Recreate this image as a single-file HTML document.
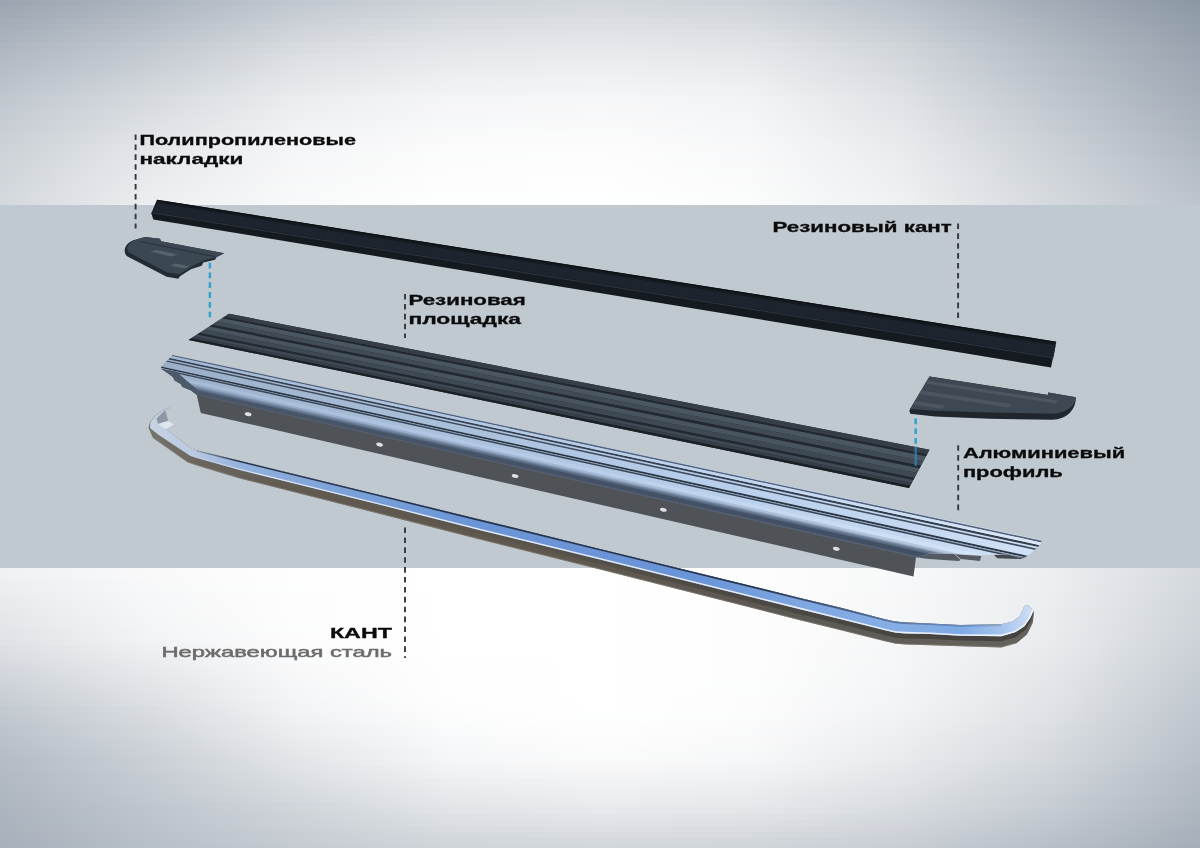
<!DOCTYPE html>
<html><head><meta charset="utf-8"><title>Exploded view</title>
<style>
html,body{margin:0;padding:0;background:#fff;}
body{width:1200px;height:848px;overflow:hidden;font-family:"Liberation Sans",sans-serif;}
svg{display:block;will-change:transform;}
text{font-family:"Liberation Sans",sans-serif;}
.lb{font-weight:bold;font-size:15.3px;fill:#0b0b0c;stroke:#0b0b0c;stroke-width:0.3px;}
.dl{stroke:#33383f;stroke-width:1.9;stroke-dasharray:5.6 4.3;fill:none;}
.bl{stroke:#35a1cd;stroke-width:2.5;stroke-dasharray:5.8 4;fill:none;}
</style></head><body>
<svg width="1200" height="848" viewBox="0 0 1200 848">

<defs><linearGradient id="t0" x1="0" y1="0" x2="1" y2="0"><stop offset="0" stop-color="#9ba5b1"/><stop offset="0.125" stop-color="#acb5bf"/><stop offset="0.25" stop-color="#c2c8d0"/><stop offset="0.375" stop-color="#ced3d9"/><stop offset="0.5" stop-color="#d3d8dd"/><stop offset="0.625" stop-color="#ced3d9"/><stop offset="0.75" stop-color="#bcc3cb"/><stop offset="0.875" stop-color="#a3acb7"/><stop offset="1" stop-color="#8d98a6"/></linearGradient>
<linearGradient id="t1" x1="0" y1="0" x2="1" y2="0"><stop offset="0" stop-color="#9ea8b3"/><stop offset="0.125" stop-color="#afb7c1"/><stop offset="0.25" stop-color="#c5cbd2"/><stop offset="0.375" stop-color="#d1d6db"/><stop offset="0.5" stop-color="#d6dadf"/><stop offset="0.625" stop-color="#d1d6db"/><stop offset="0.75" stop-color="#bfc5cd"/><stop offset="0.875" stop-color="#a5aeb9"/><stop offset="1" stop-color="#8f9aa7"/></linearGradient>
<linearGradient id="t2" x1="0" y1="0" x2="1" y2="0"><stop offset="0" stop-color="#a0aab5"/><stop offset="0.125" stop-color="#b2bac3"/><stop offset="0.25" stop-color="#c8ced4"/><stop offset="0.375" stop-color="#d4d8dd"/><stop offset="0.5" stop-color="#d8dce1"/><stop offset="0.625" stop-color="#d4d8dd"/><stop offset="0.75" stop-color="#c2c8cf"/><stop offset="0.875" stop-color="#a7b0bb"/><stop offset="1" stop-color="#909ca9"/></linearGradient>
<linearGradient id="t3" x1="0" y1="0" x2="1" y2="0"><stop offset="0" stop-color="#a3acb7"/><stop offset="0.125" stop-color="#b5bcc5"/><stop offset="0.25" stop-color="#cbd0d7"/><stop offset="0.375" stop-color="#d7dbe0"/><stop offset="0.5" stop-color="#dbdee3"/><stop offset="0.625" stop-color="#d6dadf"/><stop offset="0.75" stop-color="#c4cad1"/><stop offset="0.875" stop-color="#aab2bc"/><stop offset="1" stop-color="#929daa"/></linearGradient>
<linearGradient id="t4" x1="0" y1="0" x2="1" y2="0"><stop offset="0" stop-color="#a5aeb9"/><stop offset="0.125" stop-color="#b8bfc8"/><stop offset="0.25" stop-color="#ced3d9"/><stop offset="0.375" stop-color="#d9dde2"/><stop offset="0.5" stop-color="#dde1e5"/><stop offset="0.625" stop-color="#d9dde1"/><stop offset="0.75" stop-color="#c7ccd3"/><stop offset="0.875" stop-color="#acb4be"/><stop offset="1" stop-color="#949fac"/></linearGradient>
<linearGradient id="t5" x1="0" y1="0" x2="1" y2="0"><stop offset="0" stop-color="#a8b1bb"/><stop offset="0.125" stop-color="#bbc2ca"/><stop offset="0.25" stop-color="#d1d5db"/><stop offset="0.375" stop-color="#dce0e4"/><stop offset="0.5" stop-color="#e0e3e7"/><stop offset="0.625" stop-color="#dcdfe3"/><stop offset="0.75" stop-color="#cacfd5"/><stop offset="0.875" stop-color="#aeb6c0"/><stop offset="1" stop-color="#96a0ad"/></linearGradient>
<linearGradient id="t6" x1="0" y1="0" x2="1" y2="0"><stop offset="0" stop-color="#aab3bd"/><stop offset="0.125" stop-color="#bec4cc"/><stop offset="0.25" stop-color="#d4d8dd"/><stop offset="0.375" stop-color="#dfe2e6"/><stop offset="0.5" stop-color="#e2e5e9"/><stop offset="0.625" stop-color="#dee1e5"/><stop offset="0.75" stop-color="#ccd1d7"/><stop offset="0.875" stop-color="#b0b8c1"/><stop offset="1" stop-color="#98a2ae"/></linearGradient>
<linearGradient id="t7" x1="0" y1="0" x2="1" y2="0"><stop offset="0" stop-color="#adb5bf"/><stop offset="0.125" stop-color="#c1c7ce"/><stop offset="0.25" stop-color="#d7dbdf"/><stop offset="0.375" stop-color="#e2e5e8"/><stop offset="0.5" stop-color="#e5e8eb"/><stop offset="0.625" stop-color="#e1e4e7"/><stop offset="0.75" stop-color="#cfd4d9"/><stop offset="0.875" stop-color="#b2bac3"/><stop offset="1" stop-color="#9aa4b0"/></linearGradient>
<linearGradient id="t8" x1="0" y1="0" x2="1" y2="0"><stop offset="0" stop-color="#afb7c1"/><stop offset="0.125" stop-color="#c3c9d0"/><stop offset="0.25" stop-color="#d9dde2"/><stop offset="0.375" stop-color="#e4e7ea"/><stop offset="0.5" stop-color="#e7eaed"/><stop offset="0.625" stop-color="#e3e6e9"/><stop offset="0.75" stop-color="#d1d6db"/><stop offset="0.875" stop-color="#b4bcc5"/><stop offset="1" stop-color="#9ba5b1"/></linearGradient>
<linearGradient id="t9" x1="0" y1="0" x2="1" y2="0"><stop offset="0" stop-color="#b2b9c3"/><stop offset="0.125" stop-color="#c6cbd2"/><stop offset="0.25" stop-color="#dcdfe3"/><stop offset="0.375" stop-color="#e6e9ec"/><stop offset="0.5" stop-color="#e9ebee"/><stop offset="0.625" stop-color="#e5e8eb"/><stop offset="0.75" stop-color="#d3d7dd"/><stop offset="0.875" stop-color="#b6bdc6"/><stop offset="1" stop-color="#9ca6b2"/></linearGradient>
<linearGradient id="t10" x1="0" y1="0" x2="1" y2="0"><stop offset="0" stop-color="#b4bbc4"/><stop offset="0.125" stop-color="#c8cdd4"/><stop offset="0.25" stop-color="#dee1e5"/><stop offset="0.375" stop-color="#e8eaed"/><stop offset="0.5" stop-color="#ebedef"/><stop offset="0.625" stop-color="#e7e9ec"/><stop offset="0.75" stop-color="#d5d9de"/><stop offset="0.875" stop-color="#b7bfc7"/><stop offset="1" stop-color="#9ea7b3"/></linearGradient>
<linearGradient id="t11" x1="0" y1="0" x2="1" y2="0"><stop offset="0" stop-color="#b6bdc6"/><stop offset="0.125" stop-color="#cacfd6"/><stop offset="0.25" stop-color="#e0e3e7"/><stop offset="0.375" stop-color="#eaecef"/><stop offset="0.5" stop-color="#edeff1"/><stop offset="0.625" stop-color="#e9ebee"/><stop offset="0.75" stop-color="#d6dadf"/><stop offset="0.875" stop-color="#b9c0c8"/><stop offset="1" stop-color="#9fa8b4"/></linearGradient>
<linearGradient id="t12" x1="0" y1="0" x2="1" y2="0"><stop offset="0" stop-color="#b8bfc8"/><stop offset="0.125" stop-color="#ccd2d8"/><stop offset="0.25" stop-color="#e2e5e8"/><stop offset="0.375" stop-color="#eceef0"/><stop offset="0.5" stop-color="#eef0f2"/><stop offset="0.625" stop-color="#eaedef"/><stop offset="0.75" stop-color="#d8dce1"/><stop offset="0.875" stop-color="#bac1ca"/><stop offset="1" stop-color="#a0aab5"/></linearGradient>
<linearGradient id="t13" x1="0" y1="0" x2="1" y2="0"><stop offset="0" stop-color="#bac1c9"/><stop offset="0.125" stop-color="#cfd4d9"/><stop offset="0.25" stop-color="#e4e7ea"/><stop offset="0.375" stop-color="#eef0f2"/><stop offset="0.5" stop-color="#f0f2f4"/><stop offset="0.625" stop-color="#eceef0"/><stop offset="0.75" stop-color="#dadde2"/><stop offset="0.875" stop-color="#bcc3cb"/><stop offset="1" stop-color="#a1abb6"/></linearGradient>
<linearGradient id="t14" x1="0" y1="0" x2="1" y2="0"><stop offset="0" stop-color="#bcc3cb"/><stop offset="0.125" stop-color="#d1d6db"/><stop offset="0.25" stop-color="#e6e9ec"/><stop offset="0.375" stop-color="#f0f1f3"/><stop offset="0.5" stop-color="#f2f3f5"/><stop offset="0.625" stop-color="#eef0f2"/><stop offset="0.75" stop-color="#dbdfe3"/><stop offset="0.875" stop-color="#bec4cc"/><stop offset="1" stop-color="#a2acb7"/></linearGradient>
<linearGradient id="t15" x1="0" y1="0" x2="1" y2="0"><stop offset="0" stop-color="#bec5cd"/><stop offset="0.125" stop-color="#d3d8dd"/><stop offset="0.25" stop-color="#e8ebed"/><stop offset="0.375" stop-color="#f2f3f5"/><stop offset="0.5" stop-color="#f4f5f6"/><stop offset="0.625" stop-color="#f0f1f3"/><stop offset="0.75" stop-color="#dde0e5"/><stop offset="0.875" stop-color="#bfc6cd"/><stop offset="1" stop-color="#a4adb8"/></linearGradient>
<linearGradient id="t16" x1="0" y1="0" x2="1" y2="0"><stop offset="0" stop-color="#c1c7ce"/><stop offset="0.125" stop-color="#d6dadf"/><stop offset="0.25" stop-color="#ebedef"/><stop offset="0.375" stop-color="#f4f5f6"/><stop offset="0.5" stop-color="#f6f7f8"/><stop offset="0.625" stop-color="#f2f3f5"/><stop offset="0.75" stop-color="#dfe2e6"/><stop offset="0.875" stop-color="#c1c7ce"/><stop offset="1" stop-color="#a5aeb9"/></linearGradient>
<linearGradient id="t17" x1="0" y1="0" x2="1" y2="0"><stop offset="0" stop-color="#c2c8d0"/><stop offset="0.125" stop-color="#d7dbe0"/><stop offset="0.25" stop-color="#eceef0"/><stop offset="0.375" stop-color="#f5f6f7"/><stop offset="0.5" stop-color="#f7f7f8"/><stop offset="0.625" stop-color="#f3f4f5"/><stop offset="0.75" stop-color="#e0e3e7"/><stop offset="0.875" stop-color="#c2c8d0"/><stop offset="1" stop-color="#a6afba"/></linearGradient>
<linearGradient id="t18" x1="0" y1="0" x2="1" y2="0"><stop offset="0" stop-color="#c4cad1"/><stop offset="0.125" stop-color="#d9dde1"/><stop offset="0.25" stop-color="#edeff1"/><stop offset="0.375" stop-color="#f6f6f8"/><stop offset="0.5" stop-color="#f7f8f9"/><stop offset="0.625" stop-color="#f3f4f6"/><stop offset="0.75" stop-color="#e1e4e8"/><stop offset="0.875" stop-color="#c4cad1"/><stop offset="1" stop-color="#a8b0bb"/></linearGradient>
<linearGradient id="t19" x1="0" y1="0" x2="1" y2="0"><stop offset="0" stop-color="#c5cbd2"/><stop offset="0.125" stop-color="#dbdee3"/><stop offset="0.25" stop-color="#eef0f2"/><stop offset="0.375" stop-color="#f6f7f8"/><stop offset="0.5" stop-color="#f8f9fa"/><stop offset="0.625" stop-color="#f4f5f6"/><stop offset="0.75" stop-color="#e2e5e9"/><stop offset="0.875" stop-color="#c5cbd2"/><stop offset="1" stop-color="#a9b2bc"/></linearGradient>
<linearGradient id="t20" x1="0" y1="0" x2="1" y2="0"><stop offset="0" stop-color="#c7ccd3"/><stop offset="0.125" stop-color="#dce0e4"/><stop offset="0.25" stop-color="#f0f1f3"/><stop offset="0.375" stop-color="#f7f8f9"/><stop offset="0.5" stop-color="#f9f9fa"/><stop offset="0.625" stop-color="#f5f6f7"/><stop offset="0.75" stop-color="#e4e6ea"/><stop offset="0.875" stop-color="#c7ccd3"/><stop offset="1" stop-color="#abb3bd"/></linearGradient>
<linearGradient id="t21" x1="0" y1="0" x2="1" y2="0"><stop offset="0" stop-color="#c8cdd4"/><stop offset="0.125" stop-color="#dee1e5"/><stop offset="0.25" stop-color="#f1f2f4"/><stop offset="0.375" stop-color="#f8f9fa"/><stop offset="0.5" stop-color="#f9fafb"/><stop offset="0.625" stop-color="#f5f6f8"/><stop offset="0.75" stop-color="#e5e7eb"/><stop offset="0.875" stop-color="#c8cdd4"/><stop offset="1" stop-color="#acb4be"/></linearGradient>
<linearGradient id="t22" x1="0" y1="0" x2="1" y2="0"><stop offset="0" stop-color="#c9cfd5"/><stop offset="0.125" stop-color="#e0e3e7"/><stop offset="0.25" stop-color="#f2f3f5"/><stop offset="0.375" stop-color="#f9fafa"/><stop offset="0.5" stop-color="#fafbfb"/><stop offset="0.625" stop-color="#f6f7f8"/><stop offset="0.75" stop-color="#e6e8ec"/><stop offset="0.875" stop-color="#c9cfd5"/><stop offset="1" stop-color="#adb6bf"/></linearGradient>
<linearGradient id="t23" x1="0" y1="0" x2="1" y2="0"><stop offset="0" stop-color="#cbd0d6"/><stop offset="0.125" stop-color="#e1e4e8"/><stop offset="0.25" stop-color="#f3f4f6"/><stop offset="0.375" stop-color="#fafafb"/><stop offset="0.5" stop-color="#fbfbfc"/><stop offset="0.625" stop-color="#f7f8f9"/><stop offset="0.75" stop-color="#e7eaec"/><stop offset="0.875" stop-color="#cbd0d6"/><stop offset="1" stop-color="#afb7c0"/></linearGradient>
<linearGradient id="t24" x1="0" y1="0" x2="1" y2="0"><stop offset="0" stop-color="#ccd1d7"/><stop offset="0.125" stop-color="#e3e6e9"/><stop offset="0.25" stop-color="#f4f5f7"/><stop offset="0.375" stop-color="#fbfbfc"/><stop offset="0.5" stop-color="#fcfcfc"/><stop offset="0.625" stop-color="#f8f8f9"/><stop offset="0.75" stop-color="#e8ebed"/><stop offset="0.875" stop-color="#ccd1d7"/><stop offset="1" stop-color="#b0b8c2"/></linearGradient>
<linearGradient id="t25" x1="0" y1="0" x2="1" y2="0"><stop offset="0" stop-color="#cdd2d8"/><stop offset="0.125" stop-color="#e4e7ea"/><stop offset="0.25" stop-color="#f5f6f7"/><stop offset="0.375" stop-color="#fbfcfc"/><stop offset="0.5" stop-color="#fcfcfd"/><stop offset="0.625" stop-color="#f8f9fa"/><stop offset="0.75" stop-color="#e9ebee"/><stop offset="0.875" stop-color="#cdd2d8"/><stop offset="1" stop-color="#b2b9c3"/></linearGradient>
<linearGradient id="t26" x1="0" y1="0" x2="1" y2="0"><stop offset="0" stop-color="#ced3d9"/><stop offset="0.125" stop-color="#e5e8eb"/><stop offset="0.25" stop-color="#f6f7f8"/><stop offset="0.375" stop-color="#fbfcfc"/><stop offset="0.5" stop-color="#fcfdfd"/><stop offset="0.625" stop-color="#f8f9fa"/><stop offset="0.75" stop-color="#eaecef"/><stop offset="0.875" stop-color="#ced3d9"/><stop offset="1" stop-color="#b3bbc4"/></linearGradient>
<linearGradient id="t27" x1="0" y1="0" x2="1" y2="0"><stop offset="0" stop-color="#cfd4d9"/><stop offset="0.125" stop-color="#e6e9ec"/><stop offset="0.25" stop-color="#f6f7f8"/><stop offset="0.375" stop-color="#fcfcfd"/><stop offset="0.5" stop-color="#fdfdfd"/><stop offset="0.625" stop-color="#f9f9fa"/><stop offset="0.75" stop-color="#ebedef"/><stop offset="0.875" stop-color="#cfd4da"/><stop offset="1" stop-color="#b4bcc5"/></linearGradient>
<linearGradient id="t28" x1="0" y1="0" x2="1" y2="0"><stop offset="0" stop-color="#d0d4da"/><stop offset="0.125" stop-color="#e7e9ec"/><stop offset="0.25" stop-color="#f7f7f8"/><stop offset="0.375" stop-color="#fcfcfd"/><stop offset="0.5" stop-color="#fdfdfe"/><stop offset="0.625" stop-color="#f9fafa"/><stop offset="0.75" stop-color="#ebedf0"/><stop offset="0.875" stop-color="#d0d5da"/><stop offset="1" stop-color="#b6bdc6"/></linearGradient>
<linearGradient id="t29" x1="0" y1="0" x2="1" y2="0"><stop offset="0" stop-color="#d0d5db"/><stop offset="0.125" stop-color="#e8eaed"/><stop offset="0.25" stop-color="#f7f8f9"/><stop offset="0.375" stop-color="#fcfdfd"/><stop offset="0.5" stop-color="#fdfefe"/><stop offset="0.625" stop-color="#f9fafb"/><stop offset="0.75" stop-color="#eceef0"/><stop offset="0.875" stop-color="#d1d6db"/><stop offset="1" stop-color="#b7bec7"/></linearGradient>
<linearGradient id="t30" x1="0" y1="0" x2="1" y2="0"><stop offset="0" stop-color="#d1d6db"/><stop offset="0.125" stop-color="#e9ebee"/><stop offset="0.25" stop-color="#f7f8f9"/><stop offset="0.375" stop-color="#fdfdfd"/><stop offset="0.5" stop-color="#fefefe"/><stop offset="0.625" stop-color="#fafafb"/><stop offset="0.75" stop-color="#edeef1"/><stop offset="0.875" stop-color="#d2d6dc"/><stop offset="1" stop-color="#b8bfc8"/></linearGradient>
<linearGradient id="t31" x1="0" y1="0" x2="1" y2="0"><stop offset="0" stop-color="#d2d6dc"/><stop offset="0.125" stop-color="#eaecee"/><stop offset="0.25" stop-color="#f8f9f9"/><stop offset="0.375" stop-color="#fdfdfe"/><stop offset="0.5" stop-color="#fefefe"/><stop offset="0.625" stop-color="#fafbfb"/><stop offset="0.75" stop-color="#edeff1"/><stop offset="0.875" stop-color="#d3d7dc"/><stop offset="1" stop-color="#bac0c9"/></linearGradient>
<linearGradient id="t32" x1="0" y1="0" x2="1" y2="0"><stop offset="0" stop-color="#d3d7dc"/><stop offset="0.125" stop-color="#ebedef"/><stop offset="0.25" stop-color="#f8f9fa"/><stop offset="0.375" stop-color="#fdfefe"/><stop offset="0.5" stop-color="#feffff"/><stop offset="0.625" stop-color="#fafbfb"/><stop offset="0.75" stop-color="#eef0f2"/><stop offset="0.875" stop-color="#d4d8dd"/><stop offset="1" stop-color="#bbc2ca"/></linearGradient>
<linearGradient id="t33" x1="0" y1="0" x2="1" y2="0"><stop offset="0" stop-color="#d3d8dd"/><stop offset="0.125" stop-color="#ebedf0"/><stop offset="0.25" stop-color="#f9f9fa"/><stop offset="0.375" stop-color="#fefefe"/><stop offset="0.5" stop-color="#ffffff"/><stop offset="0.625" stop-color="#fbfbfc"/><stop offset="0.75" stop-color="#eff0f2"/><stop offset="0.875" stop-color="#d4d9de"/><stop offset="1" stop-color="#bcc3cb"/></linearGradient>
<linearGradient id="t34" x1="0" y1="0" x2="1" y2="0"><stop offset="0" stop-color="#d4d8dd"/><stop offset="0.125" stop-color="#eceef0"/><stop offset="0.25" stop-color="#f9fafa"/><stop offset="0.375" stop-color="#fefefe"/><stop offset="0.5" stop-color="#ffffff"/><stop offset="0.625" stop-color="#fbfbfc"/><stop offset="0.75" stop-color="#eff1f2"/><stop offset="0.875" stop-color="#d5d9de"/><stop offset="1" stop-color="#bdc4cb"/></linearGradient>
<linearGradient id="b0" x1="0" y1="0" x2="1" y2="0"><stop offset="0" stop-color="#eff1f3"/><stop offset="0.125" stop-color="#f9f9fa"/><stop offset="0.25" stop-color="#fefefe"/><stop offset="0.375" stop-color="#ffffff"/><stop offset="0.5" stop-color="#ffffff"/><stop offset="0.625" stop-color="#fdfdfd"/><stop offset="0.75" stop-color="#f7f8f9"/><stop offset="0.875" stop-color="#edeff1"/><stop offset="1" stop-color="#d5d9de"/></linearGradient>
<linearGradient id="b1" x1="0" y1="0" x2="1" y2="0"><stop offset="0" stop-color="#eef0f2"/><stop offset="0.125" stop-color="#f8f9fa"/><stop offset="0.25" stop-color="#fefefe"/><stop offset="0.375" stop-color="#ffffff"/><stop offset="0.5" stop-color="#ffffff"/><stop offset="0.625" stop-color="#fdfdfd"/><stop offset="0.75" stop-color="#f7f8f9"/><stop offset="0.875" stop-color="#eceef1"/><stop offset="1" stop-color="#d4d8dd"/></linearGradient>
<linearGradient id="b2" x1="0" y1="0" x2="1" y2="0"><stop offset="0" stop-color="#eceef1"/><stop offset="0.125" stop-color="#f8f8f9"/><stop offset="0.25" stop-color="#fefefe"/><stop offset="0.375" stop-color="#ffffff"/><stop offset="0.5" stop-color="#ffffff"/><stop offset="0.625" stop-color="#fdfdfd"/><stop offset="0.75" stop-color="#f7f8f9"/><stop offset="0.875" stop-color="#eceef0"/><stop offset="1" stop-color="#d3d8dd"/></linearGradient>
<linearGradient id="b3" x1="0" y1="0" x2="1" y2="0"><stop offset="0" stop-color="#ebedef"/><stop offset="0.125" stop-color="#f7f8f9"/><stop offset="0.25" stop-color="#fdfefe"/><stop offset="0.375" stop-color="#ffffff"/><stop offset="0.5" stop-color="#ffffff"/><stop offset="0.625" stop-color="#fdfdfd"/><stop offset="0.75" stop-color="#f7f8f9"/><stop offset="0.875" stop-color="#eceef0"/><stop offset="1" stop-color="#d3d7dc"/></linearGradient>
<linearGradient id="b4" x1="0" y1="0" x2="1" y2="0"><stop offset="0" stop-color="#eaecee"/><stop offset="0.125" stop-color="#f6f7f8"/><stop offset="0.25" stop-color="#fdfdfe"/><stop offset="0.375" stop-color="#ffffff"/><stop offset="0.5" stop-color="#ffffff"/><stop offset="0.625" stop-color="#fdfdfd"/><stop offset="0.75" stop-color="#f7f7f8"/><stop offset="0.875" stop-color="#ecedf0"/><stop offset="1" stop-color="#d2d6dc"/></linearGradient>
<linearGradient id="b5" x1="0" y1="0" x2="1" y2="0"><stop offset="0" stop-color="#e8eaed"/><stop offset="0.125" stop-color="#f6f7f8"/><stop offset="0.25" stop-color="#fdfdfe"/><stop offset="0.375" stop-color="#ffffff"/><stop offset="0.5" stop-color="#ffffff"/><stop offset="0.625" stop-color="#fdfdfd"/><stop offset="0.75" stop-color="#f7f7f8"/><stop offset="0.875" stop-color="#ebedf0"/><stop offset="1" stop-color="#d1d6db"/></linearGradient>
<linearGradient id="b6" x1="0" y1="0" x2="1" y2="0"><stop offset="0" stop-color="#e7e9ec"/><stop offset="0.125" stop-color="#f5f6f7"/><stop offset="0.25" stop-color="#fdfdfd"/><stop offset="0.375" stop-color="#ffffff"/><stop offset="0.5" stop-color="#ffffff"/><stop offset="0.625" stop-color="#fdfdfd"/><stop offset="0.75" stop-color="#f6f7f8"/><stop offset="0.875" stop-color="#ebedef"/><stop offset="1" stop-color="#d1d5db"/></linearGradient>
<linearGradient id="b7" x1="0" y1="0" x2="1" y2="0"><stop offset="0" stop-color="#e5e8eb"/><stop offset="0.125" stop-color="#f5f6f7"/><stop offset="0.25" stop-color="#fdfdfd"/><stop offset="0.375" stop-color="#ffffff"/><stop offset="0.5" stop-color="#ffffff"/><stop offset="0.625" stop-color="#fdfdfd"/><stop offset="0.75" stop-color="#f6f7f8"/><stop offset="0.875" stop-color="#eaedef"/><stop offset="1" stop-color="#d0d5da"/></linearGradient>
<linearGradient id="b8" x1="0" y1="0" x2="1" y2="0"><stop offset="0" stop-color="#e4e7ea"/><stop offset="0.125" stop-color="#f4f5f6"/><stop offset="0.25" stop-color="#fdfdfd"/><stop offset="0.375" stop-color="#ffffff"/><stop offset="0.5" stop-color="#ffffff"/><stop offset="0.625" stop-color="#fdfdfd"/><stop offset="0.75" stop-color="#f6f7f8"/><stop offset="0.875" stop-color="#eaecef"/><stop offset="1" stop-color="#cfd4da"/></linearGradient>
<linearGradient id="b9" x1="0" y1="0" x2="1" y2="0"><stop offset="0" stop-color="#e3e5e9"/><stop offset="0.125" stop-color="#f3f5f6"/><stop offset="0.25" stop-color="#fcfdfd"/><stop offset="0.375" stop-color="#ffffff"/><stop offset="0.5" stop-color="#ffffff"/><stop offset="0.625" stop-color="#fdfdfd"/><stop offset="0.75" stop-color="#f6f7f8"/><stop offset="0.875" stop-color="#eaecee"/><stop offset="1" stop-color="#cfd4d9"/></linearGradient>
<linearGradient id="b10" x1="0" y1="0" x2="1" y2="0"><stop offset="0" stop-color="#e1e4e8"/><stop offset="0.125" stop-color="#f3f4f6"/><stop offset="0.25" stop-color="#fcfdfd"/><stop offset="0.375" stop-color="#ffffff"/><stop offset="0.5" stop-color="#ffffff"/><stop offset="0.625" stop-color="#fdfdfd"/><stop offset="0.75" stop-color="#f6f7f8"/><stop offset="0.875" stop-color="#eaecee"/><stop offset="1" stop-color="#ced3d9"/></linearGradient>
<linearGradient id="b11" x1="0" y1="0" x2="1" y2="0"><stop offset="0" stop-color="#e0e3e7"/><stop offset="0.125" stop-color="#f2f4f5"/><stop offset="0.25" stop-color="#fcfcfd"/><stop offset="0.375" stop-color="#ffffff"/><stop offset="0.5" stop-color="#ffffff"/><stop offset="0.625" stop-color="#fdfdfd"/><stop offset="0.75" stop-color="#f6f7f8"/><stop offset="0.875" stop-color="#e9ebee"/><stop offset="1" stop-color="#cdd2d8"/></linearGradient>
<linearGradient id="b12" x1="0" y1="0" x2="1" y2="0"><stop offset="0" stop-color="#dee1e5"/><stop offset="0.125" stop-color="#f1f2f4"/><stop offset="0.25" stop-color="#fcfcfc"/><stop offset="0.375" stop-color="#ffffff"/><stop offset="0.5" stop-color="#ffffff"/><stop offset="0.625" stop-color="#fdfdfd"/><stop offset="0.75" stop-color="#f6f7f8"/><stop offset="0.875" stop-color="#e9ebee"/><stop offset="1" stop-color="#ccd2d8"/></linearGradient>
<linearGradient id="b13" x1="0" y1="0" x2="1" y2="0"><stop offset="0" stop-color="#dbdfe3"/><stop offset="0.125" stop-color="#eff0f2"/><stop offset="0.25" stop-color="#fbfbfc"/><stop offset="0.375" stop-color="#ffffff"/><stop offset="0.5" stop-color="#ffffff"/><stop offset="0.625" stop-color="#fdfdfd"/><stop offset="0.75" stop-color="#f5f6f8"/><stop offset="0.875" stop-color="#e8eaed"/><stop offset="1" stop-color="#cbd1d7"/></linearGradient>
<linearGradient id="b14" x1="0" y1="0" x2="1" y2="0"><stop offset="0" stop-color="#d9dde1"/><stop offset="0.125" stop-color="#edeef1"/><stop offset="0.25" stop-color="#fafbfb"/><stop offset="0.375" stop-color="#ffffff"/><stop offset="0.5" stop-color="#ffffff"/><stop offset="0.625" stop-color="#fdfdfd"/><stop offset="0.75" stop-color="#f5f6f7"/><stop offset="0.875" stop-color="#e7e9ec"/><stop offset="1" stop-color="#cad0d6"/></linearGradient>
<linearGradient id="b15" x1="0" y1="0" x2="1" y2="0"><stop offset="0" stop-color="#d7dbdf"/><stop offset="0.125" stop-color="#eaedef"/><stop offset="0.25" stop-color="#f9fafb"/><stop offset="0.375" stop-color="#fefeff"/><stop offset="0.5" stop-color="#ffffff"/><stop offset="0.625" stop-color="#fdfdfd"/><stop offset="0.75" stop-color="#f5f6f7"/><stop offset="0.875" stop-color="#e6e8ec"/><stop offset="1" stop-color="#c9cfd5"/></linearGradient>
<linearGradient id="b16" x1="0" y1="0" x2="1" y2="0"><stop offset="0" stop-color="#d4d8de"/><stop offset="0.125" stop-color="#e8ebed"/><stop offset="0.25" stop-color="#f9f9fa"/><stop offset="0.375" stop-color="#fefefe"/><stop offset="0.5" stop-color="#ffffff"/><stop offset="0.625" stop-color="#fdfdfd"/><stop offset="0.75" stop-color="#f4f6f7"/><stop offset="0.875" stop-color="#e5e8eb"/><stop offset="1" stop-color="#c8ced4"/></linearGradient>
<linearGradient id="b17" x1="0" y1="0" x2="1" y2="0"><stop offset="0" stop-color="#d2d6dc"/><stop offset="0.125" stop-color="#e6e9ec"/><stop offset="0.25" stop-color="#f8f8f9"/><stop offset="0.375" stop-color="#fefefe"/><stop offset="0.5" stop-color="#ffffff"/><stop offset="0.625" stop-color="#fdfdfd"/><stop offset="0.75" stop-color="#f4f5f7"/><stop offset="0.875" stop-color="#e4e7ea"/><stop offset="1" stop-color="#c7cdd4"/></linearGradient>
<linearGradient id="b18" x1="0" y1="0" x2="1" y2="0"><stop offset="0" stop-color="#cfd4da"/><stop offset="0.125" stop-color="#e4e7ea"/><stop offset="0.25" stop-color="#f7f8f9"/><stop offset="0.375" stop-color="#fefefe"/><stop offset="0.5" stop-color="#ffffff"/><stop offset="0.625" stop-color="#fcfdfd"/><stop offset="0.75" stop-color="#f4f5f6"/><stop offset="0.875" stop-color="#e3e6e9"/><stop offset="1" stop-color="#c6ccd3"/></linearGradient>
<linearGradient id="b19" x1="0" y1="0" x2="1" y2="0"><stop offset="0" stop-color="#cdd2d8"/><stop offset="0.125" stop-color="#e2e5e8"/><stop offset="0.25" stop-color="#f6f7f8"/><stop offset="0.375" stop-color="#fefefe"/><stop offset="0.5" stop-color="#ffffff"/><stop offset="0.625" stop-color="#fcfdfd"/><stop offset="0.75" stop-color="#f3f5f6"/><stop offset="0.875" stop-color="#e3e5e9"/><stop offset="1" stop-color="#c5cbd2"/></linearGradient>
<linearGradient id="b20" x1="0" y1="0" x2="1" y2="0"><stop offset="0" stop-color="#cbd0d6"/><stop offset="0.125" stop-color="#e0e3e7"/><stop offset="0.25" stop-color="#f5f6f8"/><stop offset="0.375" stop-color="#fefefe"/><stop offset="0.5" stop-color="#ffffff"/><stop offset="0.625" stop-color="#fcfdfd"/><stop offset="0.75" stop-color="#f3f4f6"/><stop offset="0.875" stop-color="#e2e5e8"/><stop offset="1" stop-color="#c4cad1"/></linearGradient>
<linearGradient id="b21" x1="0" y1="0" x2="1" y2="0"><stop offset="0" stop-color="#c8ced4"/><stop offset="0.125" stop-color="#dee1e5"/><stop offset="0.25" stop-color="#f5f6f7"/><stop offset="0.375" stop-color="#fdfefe"/><stop offset="0.5" stop-color="#ffffff"/><stop offset="0.625" stop-color="#fcfcfd"/><stop offset="0.75" stop-color="#f3f4f5"/><stop offset="0.875" stop-color="#e1e4e7"/><stop offset="1" stop-color="#c3c9d0"/></linearGradient>
<linearGradient id="b22" x1="0" y1="0" x2="1" y2="0"><stop offset="0" stop-color="#c6ccd2"/><stop offset="0.125" stop-color="#dcdfe3"/><stop offset="0.25" stop-color="#f4f5f6"/><stop offset="0.375" stop-color="#fdfdfe"/><stop offset="0.5" stop-color="#ffffff"/><stop offset="0.625" stop-color="#fcfcfd"/><stop offset="0.75" stop-color="#f2f4f5"/><stop offset="0.875" stop-color="#e0e3e7"/><stop offset="1" stop-color="#c2c8d0"/></linearGradient>
<linearGradient id="b23" x1="0" y1="0" x2="1" y2="0"><stop offset="0" stop-color="#c3c9d1"/><stop offset="0.125" stop-color="#d9dde2"/><stop offset="0.25" stop-color="#f3f4f6"/><stop offset="0.375" stop-color="#fdfdfd"/><stop offset="0.5" stop-color="#ffffff"/><stop offset="0.625" stop-color="#fcfcfd"/><stop offset="0.75" stop-color="#f2f3f5"/><stop offset="0.875" stop-color="#dfe2e6"/><stop offset="1" stop-color="#c1c7cf"/></linearGradient>
<linearGradient id="b24" x1="0" y1="0" x2="1" y2="0"><stop offset="0" stop-color="#c2c8cf"/><stop offset="0.125" stop-color="#d8dbe0"/><stop offset="0.25" stop-color="#f1f3f4"/><stop offset="0.375" stop-color="#fcfcfd"/><stop offset="0.5" stop-color="#feffff"/><stop offset="0.625" stop-color="#fbfcfc"/><stop offset="0.75" stop-color="#f1f2f4"/><stop offset="0.875" stop-color="#dee1e5"/><stop offset="1" stop-color="#c0c6ce"/></linearGradient>
<linearGradient id="b25" x1="0" y1="0" x2="1" y2="0"><stop offset="0" stop-color="#c0c6ce"/><stop offset="0.125" stop-color="#d6dadf"/><stop offset="0.25" stop-color="#eff1f3"/><stop offset="0.375" stop-color="#fbfcfc"/><stop offset="0.5" stop-color="#fefefe"/><stop offset="0.625" stop-color="#fbfbfc"/><stop offset="0.75" stop-color="#f0f1f3"/><stop offset="0.875" stop-color="#dde0e4"/><stop offset="1" stop-color="#bfc5cd"/></linearGradient>
<linearGradient id="b26" x1="0" y1="0" x2="1" y2="0"><stop offset="0" stop-color="#bec4cc"/><stop offset="0.125" stop-color="#d4d8dd"/><stop offset="0.25" stop-color="#eeeff1"/><stop offset="0.375" stop-color="#fafbfb"/><stop offset="0.5" stop-color="#fdfdfe"/><stop offset="0.625" stop-color="#fafafb"/><stop offset="0.75" stop-color="#eff0f2"/><stop offset="0.875" stop-color="#dbdfe3"/><stop offset="1" stop-color="#bec4cc"/></linearGradient>
<linearGradient id="b27" x1="0" y1="0" x2="1" y2="0"><stop offset="0" stop-color="#bcc3cb"/><stop offset="0.125" stop-color="#d2d7dc"/><stop offset="0.25" stop-color="#eceef0"/><stop offset="0.375" stop-color="#f9fafb"/><stop offset="0.5" stop-color="#fdfdfd"/><stop offset="0.625" stop-color="#f9fafb"/><stop offset="0.75" stop-color="#edeff1"/><stop offset="0.875" stop-color="#dadee2"/><stop offset="1" stop-color="#bdc3cb"/></linearGradient>
<linearGradient id="b28" x1="0" y1="0" x2="1" y2="0"><stop offset="0" stop-color="#bac1c9"/><stop offset="0.125" stop-color="#d0d5db"/><stop offset="0.25" stop-color="#eaecee"/><stop offset="0.375" stop-color="#f8f9fa"/><stop offset="0.5" stop-color="#fcfcfd"/><stop offset="0.625" stop-color="#f9f9fa"/><stop offset="0.75" stop-color="#eceef0"/><stop offset="0.875" stop-color="#d9dce1"/><stop offset="1" stop-color="#bcc3cb"/></linearGradient>
<linearGradient id="b29" x1="0" y1="0" x2="1" y2="0"><stop offset="0" stop-color="#b8c0c8"/><stop offset="0.125" stop-color="#ced3d9"/><stop offset="0.25" stop-color="#e8eaed"/><stop offset="0.375" stop-color="#f7f8f9"/><stop offset="0.5" stop-color="#fcfcfc"/><stop offset="0.625" stop-color="#f8f9f9"/><stop offset="0.75" stop-color="#ebedef"/><stop offset="0.875" stop-color="#d7dbe0"/><stop offset="1" stop-color="#bbc2ca"/></linearGradient>
<linearGradient id="b30" x1="0" y1="0" x2="1" y2="0"><stop offset="0" stop-color="#b7bec7"/><stop offset="0.125" stop-color="#cdd2d8"/><stop offset="0.25" stop-color="#e6e8eb"/><stop offset="0.375" stop-color="#f6f7f8"/><stop offset="0.5" stop-color="#fbfbfc"/><stop offset="0.625" stop-color="#f7f8f9"/><stop offset="0.75" stop-color="#eaecee"/><stop offset="0.875" stop-color="#d6dadf"/><stop offset="1" stop-color="#bac1c9"/></linearGradient>
<linearGradient id="b31" x1="0" y1="0" x2="1" y2="0"><stop offset="0" stop-color="#b5bcc5"/><stop offset="0.125" stop-color="#cbd0d6"/><stop offset="0.25" stop-color="#e4e7ea"/><stop offset="0.375" stop-color="#f5f6f8"/><stop offset="0.5" stop-color="#fafbfb"/><stop offset="0.625" stop-color="#f6f7f8"/><stop offset="0.75" stop-color="#e9ebee"/><stop offset="0.875" stop-color="#d5d9de"/><stop offset="1" stop-color="#b9c0c8"/></linearGradient>
<linearGradient id="b32" x1="0" y1="0" x2="1" y2="0"><stop offset="0" stop-color="#b4bbc4"/><stop offset="0.125" stop-color="#c9cfd5"/><stop offset="0.25" stop-color="#e2e5e8"/><stop offset="0.375" stop-color="#f4f5f6"/><stop offset="0.5" stop-color="#f9f9fa"/><stop offset="0.625" stop-color="#f5f6f7"/><stop offset="0.75" stop-color="#e7e9ec"/><stop offset="0.875" stop-color="#d3d8dd"/><stop offset="1" stop-color="#b7bfc7"/></linearGradient>
<linearGradient id="b33" x1="0" y1="0" x2="1" y2="0"><stop offset="0" stop-color="#b3bac3"/><stop offset="0.125" stop-color="#c8ced4"/><stop offset="0.25" stop-color="#e0e3e7"/><stop offset="0.375" stop-color="#f1f3f4"/><stop offset="0.5" stop-color="#f7f7f8"/><stop offset="0.625" stop-color="#f3f4f5"/><stop offset="0.75" stop-color="#e5e8eb"/><stop offset="0.875" stop-color="#d1d6db"/><stop offset="1" stop-color="#b6bdc6"/></linearGradient>
<linearGradient id="b34" x1="0" y1="0" x2="1" y2="0"><stop offset="0" stop-color="#b2b9c3"/><stop offset="0.125" stop-color="#c7ccd3"/><stop offset="0.25" stop-color="#dde1e5"/><stop offset="0.375" stop-color="#eff1f3"/><stop offset="0.5" stop-color="#f4f5f7"/><stop offset="0.625" stop-color="#f1f2f4"/><stop offset="0.75" stop-color="#e3e6e9"/><stop offset="0.875" stop-color="#d0d4da"/><stop offset="1" stop-color="#b5bcc5"/></linearGradient>
<linearGradient id="b35" x1="0" y1="0" x2="1" y2="0"><stop offset="0" stop-color="#b1b9c2"/><stop offset="0.125" stop-color="#c5cbd2"/><stop offset="0.25" stop-color="#dbdfe3"/><stop offset="0.375" stop-color="#edeef1"/><stop offset="0.5" stop-color="#f2f3f5"/><stop offset="0.625" stop-color="#eff0f2"/><stop offset="0.75" stop-color="#e1e4e8"/><stop offset="0.875" stop-color="#ced3d9"/><stop offset="1" stop-color="#b4bbc4"/></linearGradient>
<linearGradient id="b36" x1="0" y1="0" x2="1" y2="0"><stop offset="0" stop-color="#b0b8c1"/><stop offset="0.125" stop-color="#c4cad1"/><stop offset="0.25" stop-color="#d9dde1"/><stop offset="0.375" stop-color="#eaecef"/><stop offset="0.5" stop-color="#f0f1f3"/><stop offset="0.625" stop-color="#eceef0"/><stop offset="0.75" stop-color="#dfe2e6"/><stop offset="0.875" stop-color="#ccd1d7"/><stop offset="1" stop-color="#b3bac3"/></linearGradient>
<linearGradient id="b37" x1="0" y1="0" x2="1" y2="0"><stop offset="0" stop-color="#afb7c0"/><stop offset="0.125" stop-color="#c3c9d0"/><stop offset="0.25" stop-color="#d7dbdf"/><stop offset="0.375" stop-color="#e8eaed"/><stop offset="0.5" stop-color="#eeeff1"/><stop offset="0.625" stop-color="#eaecef"/><stop offset="0.75" stop-color="#dde0e4"/><stop offset="0.875" stop-color="#cad0d6"/><stop offset="1" stop-color="#b1b9c2"/></linearGradient>
<linearGradient id="b38" x1="0" y1="0" x2="1" y2="0"><stop offset="0" stop-color="#aeb6c0"/><stop offset="0.125" stop-color="#c1c8cf"/><stop offset="0.25" stop-color="#d4d9de"/><stop offset="0.375" stop-color="#e5e8eb"/><stop offset="0.5" stop-color="#ebedf0"/><stop offset="0.625" stop-color="#e8eaed"/><stop offset="0.75" stop-color="#dbdfe3"/><stop offset="0.875" stop-color="#c9ced5"/><stop offset="1" stop-color="#b0b8c2"/></linearGradient>
<linearGradient id="b39" x1="0" y1="0" x2="1" y2="0"><stop offset="0" stop-color="#adb5bf"/><stop offset="0.125" stop-color="#c0c6ce"/><stop offset="0.25" stop-color="#d2d6dc"/><stop offset="0.375" stop-color="#e3e6e9"/><stop offset="0.5" stop-color="#e9ebee"/><stop offset="0.625" stop-color="#e6e8ec"/><stop offset="0.75" stop-color="#d9dde1"/><stop offset="0.875" stop-color="#c7cdd3"/><stop offset="1" stop-color="#afb7c1"/></linearGradient>
<linearGradient id="b40" x1="0" y1="0" x2="1" y2="0"><stop offset="0" stop-color="#acb4be"/><stop offset="0.125" stop-color="#bfc5cd"/><stop offset="0.25" stop-color="#d0d5da"/><stop offset="0.375" stop-color="#e0e3e7"/><stop offset="0.5" stop-color="#e6e8eb"/><stop offset="0.625" stop-color="#e3e6e9"/><stop offset="0.75" stop-color="#d7dbe0"/><stop offset="0.875" stop-color="#c5cbd2"/><stop offset="1" stop-color="#aeb6c0"/></linearGradient>
<linearGradient id="b41" x1="0" y1="0" x2="1" y2="0"><stop offset="0" stop-color="#abb4be"/><stop offset="0.125" stop-color="#bdc4cc"/><stop offset="0.25" stop-color="#ced3d9"/><stop offset="0.375" stop-color="#dde1e5"/><stop offset="0.5" stop-color="#e2e5e9"/><stop offset="0.625" stop-color="#e0e3e6"/><stop offset="0.75" stop-color="#d4d9de"/><stop offset="0.875" stop-color="#c3c9d0"/><stop offset="1" stop-color="#acb4be"/></linearGradient>
<linearGradient id="b42" x1="0" y1="0" x2="1" y2="0"><stop offset="0" stop-color="#aab3bd"/><stop offset="0.125" stop-color="#bcc3cb"/><stop offset="0.25" stop-color="#cdd2d8"/><stop offset="0.375" stop-color="#dbdee3"/><stop offset="0.5" stop-color="#dfe2e6"/><stop offset="0.625" stop-color="#dce0e4"/><stop offset="0.75" stop-color="#d2d6dc"/><stop offset="0.875" stop-color="#c0c7ce"/><stop offset="1" stop-color="#abb3bd"/></linearGradient>
<linearGradient id="b43" x1="0" y1="0" x2="1" y2="0"><stop offset="0" stop-color="#aab2bc"/><stop offset="0.125" stop-color="#bbc2ca"/><stop offset="0.25" stop-color="#cbd0d6"/><stop offset="0.375" stop-color="#d8dce0"/><stop offset="0.5" stop-color="#dcdfe3"/><stop offset="0.625" stop-color="#d9dde1"/><stop offset="0.75" stop-color="#d0d4da"/><stop offset="0.875" stop-color="#bec5cc"/><stop offset="1" stop-color="#a9b2bc"/></linearGradient>
<linearGradient id="b44" x1="0" y1="0" x2="1" y2="0"><stop offset="0" stop-color="#a9b1bc"/><stop offset="0.125" stop-color="#bac1c9"/><stop offset="0.25" stop-color="#c9ced5"/><stop offset="0.375" stop-color="#d5d9de"/><stop offset="0.5" stop-color="#d8dce1"/><stop offset="0.625" stop-color="#d6dadf"/><stop offset="0.75" stop-color="#cdd2d8"/><stop offset="0.875" stop-color="#bcc3cb"/><stop offset="1" stop-color="#a8b1bb"/></linearGradient>
<linearGradient id="b45" x1="0" y1="0" x2="1" y2="0"><stop offset="0" stop-color="#a8b1bb"/><stop offset="0.125" stop-color="#b8c0c8"/><stop offset="0.25" stop-color="#c7cdd3"/><stop offset="0.375" stop-color="#d2d7dc"/><stop offset="0.5" stop-color="#d5d9de"/><stop offset="0.625" stop-color="#d3d7dc"/><stop offset="0.75" stop-color="#cbd0d6"/><stop offset="0.875" stop-color="#bac1c9"/><stop offset="1" stop-color="#a7afba"/></linearGradient>
<linearGradient id="b46" x1="0" y1="0" x2="1" y2="0"><stop offset="0" stop-color="#a7b0bb"/><stop offset="0.125" stop-color="#b7bfc7"/><stop offset="0.25" stop-color="#c6cbd2"/><stop offset="0.375" stop-color="#d0d5da"/><stop offset="0.5" stop-color="#d2d7dc"/><stop offset="0.625" stop-color="#d0d5da"/><stop offset="0.75" stop-color="#c9ced5"/><stop offset="0.875" stop-color="#b8bfc7"/><stop offset="1" stop-color="#a5aeb9"/></linearGradient>
<linearGradient id="aluL" gradientUnits="userSpaceOnUse" x1="160" y1="0" x2="1045" y2="0">
<stop offset="0" stop-color="#9bafc8"/><stop offset="0.3" stop-color="#a9bed9"/><stop offset="0.6" stop-color="#b7cdea"/><stop offset="0.85" stop-color="#c4d8f1"/><stop offset="1" stop-color="#d2e3f7"/></linearGradient>
<linearGradient id="aluL2" gradientUnits="userSpaceOnUse" x1="160" y1="0" x2="1045" y2="0">
<stop offset="0" stop-color="#a3b8d3"/><stop offset="0.3" stop-color="#b0c6e2"/><stop offset="0.6" stop-color="#bfd4ee"/><stop offset="0.85" stop-color="#cfe0f5"/><stop offset="1" stop-color="#dce9f9"/></linearGradient>
<linearGradient id="aluRound" gradientUnits="userSpaceOnUse" x1="160" y1="0" x2="1045" y2="0">
<stop offset="0" stop-color="#4a576a"/><stop offset="0.5" stop-color="#445166"/><stop offset="1" stop-color="#404e63"/></linearGradient>
<linearGradient id="tubeTop" gradientUnits="userSpaceOnUse" x1="150" y1="0" x2="1035" y2="0"><stop offset="0.000" stop-color="#c6d3e4"/><stop offset="0.051" stop-color="#b9c9e0"/><stop offset="0.102" stop-color="#93b2de"/><stop offset="0.203" stop-color="#7ea3d8"/><stop offset="0.362" stop-color="#6b95d6"/><stop offset="0.621" stop-color="#6a94d8"/><stop offset="0.734" stop-color="#7ea6e0"/><stop offset="0.847" stop-color="#86aee6"/><stop offset="0.915" stop-color="#7eaae6"/><stop offset="0.966" stop-color="#a8c6ee"/><stop offset="1.000" stop-color="#d5e3f6"/></linearGradient>
<linearGradient id="tubeBot" gradientUnits="userSpaceOnUse" x1="150" y1="0" x2="1035" y2="0"><stop offset="0.000" stop-color="#75736c"/><stop offset="0.056" stop-color="#6a665e"/><stop offset="0.169" stop-color="#5f594f"/><stop offset="0.373" stop-color="#5f584e"/><stop offset="0.734" stop-color="#5c5852"/><stop offset="1.000" stop-color="#66635e"/></linearGradient>
<linearGradient id="tubeBot2" gradientUnits="userSpaceOnUse" x1="150" y1="0" x2="1035" y2="0"><stop offset="0.000" stop-color="#77766f" stop-opacity="0"/><stop offset="0.282" stop-color="#5a544b" stop-opacity="0.3"/><stop offset="0.621" stop-color="#4d4944" stop-opacity="1"/><stop offset="1.000" stop-color="#45423f" stop-opacity="1"/></linearGradient>
<linearGradient id="tubeHi" gradientUnits="userSpaceOnUse" x1="150" y1="0" x2="1035" y2="0"><stop offset="0.000" stop-color="#c6d3e4" stop-opacity="0"/><stop offset="0.056" stop-color="#cfdbea" stop-opacity="0.5"/><stop offset="0.124" stop-color="#e3ebf6" stop-opacity="0.95"/><stop offset="0.915" stop-color="#eaf1fa" stop-opacity="1"/><stop offset="1.000" stop-color="#f4f8fc" stop-opacity="1"/></linearGradient>
<linearGradient id="tubeEdge" gradientUnits="userSpaceOnUse" x1="150" y1="0" x2="1035" y2="0"><stop offset="0.000" stop-color="#2a3750" stop-opacity="0"/><stop offset="0.051" stop-color="#2a3750" stop-opacity="0.2"/><stop offset="0.096" stop-color="#1e2a3c" stop-opacity="0.9"/><stop offset="0.689" stop-color="#1e2a3c" stop-opacity="0.9"/><stop offset="0.847" stop-color="#3a4a68" stop-opacity="0.55"/><stop offset="1.000" stop-color="#3a4a68" stop-opacity="0.1"/></linearGradient>
<clipPath id="aluClip"><polygon points="172.8,354.9 1042.0,540.0 1040.7,544.0 1033.3,551.3 1028.0,555.3 1020.0,558.0 1006.7,554.2 980.0,554.9 950.0,553.6 929.3,553.5 916.0,557.3 196.7,394.8 190.8,390.2 182.1,386.7 180.9,384.3 174.5,380.8 172.8,377.3 161.7,369.2 161.1,366.6"/></clipPath>
</defs>
<rect x="0" y="0" width="1200" height="6.6" fill="url(#t0)"/>
<rect x="0" y="6" width="1200" height="6.6" fill="url(#t1)"/>
<rect x="0" y="12" width="1200" height="6.6" fill="url(#t2)"/>
<rect x="0" y="18" width="1200" height="6.6" fill="url(#t3)"/>
<rect x="0" y="24" width="1200" height="6.6" fill="url(#t4)"/>
<rect x="0" y="30" width="1200" height="6.6" fill="url(#t5)"/>
<rect x="0" y="36" width="1200" height="6.6" fill="url(#t6)"/>
<rect x="0" y="42" width="1200" height="6.6" fill="url(#t7)"/>
<rect x="0" y="48" width="1200" height="6.6" fill="url(#t8)"/>
<rect x="0" y="54" width="1200" height="6.6" fill="url(#t9)"/>
<rect x="0" y="60" width="1200" height="6.6" fill="url(#t10)"/>
<rect x="0" y="66" width="1200" height="6.6" fill="url(#t11)"/>
<rect x="0" y="72" width="1200" height="6.6" fill="url(#t12)"/>
<rect x="0" y="78" width="1200" height="6.6" fill="url(#t13)"/>
<rect x="0" y="84" width="1200" height="6.6" fill="url(#t14)"/>
<rect x="0" y="90" width="1200" height="6.6" fill="url(#t15)"/>
<rect x="0" y="96" width="1200" height="6.6" fill="url(#t16)"/>
<rect x="0" y="102" width="1200" height="6.6" fill="url(#t17)"/>
<rect x="0" y="108" width="1200" height="6.6" fill="url(#t18)"/>
<rect x="0" y="114" width="1200" height="6.6" fill="url(#t19)"/>
<rect x="0" y="120" width="1200" height="6.6" fill="url(#t20)"/>
<rect x="0" y="126" width="1200" height="6.6" fill="url(#t21)"/>
<rect x="0" y="132" width="1200" height="6.6" fill="url(#t22)"/>
<rect x="0" y="138" width="1200" height="6.6" fill="url(#t23)"/>
<rect x="0" y="144" width="1200" height="6.6" fill="url(#t24)"/>
<rect x="0" y="150" width="1200" height="6.6" fill="url(#t25)"/>
<rect x="0" y="156" width="1200" height="6.6" fill="url(#t26)"/>
<rect x="0" y="162" width="1200" height="6.6" fill="url(#t27)"/>
<rect x="0" y="168" width="1200" height="6.6" fill="url(#t28)"/>
<rect x="0" y="174" width="1200" height="6.6" fill="url(#t29)"/>
<rect x="0" y="180" width="1200" height="6.6" fill="url(#t30)"/>
<rect x="0" y="186" width="1200" height="6.6" fill="url(#t31)"/>
<rect x="0" y="192" width="1200" height="6.6" fill="url(#t32)"/>
<rect x="0" y="198" width="1200" height="6.6" fill="url(#t33)"/>
<rect x="0" y="204" width="1200" height="1.6" fill="url(#t34)"/>
<rect x="0" y="568" width="1200" height="6.6" fill="url(#b0)"/>
<rect x="0" y="574" width="1200" height="6.6" fill="url(#b1)"/>
<rect x="0" y="580" width="1200" height="6.6" fill="url(#b2)"/>
<rect x="0" y="586" width="1200" height="6.6" fill="url(#b3)"/>
<rect x="0" y="592" width="1200" height="6.6" fill="url(#b4)"/>
<rect x="0" y="598" width="1200" height="6.6" fill="url(#b5)"/>
<rect x="0" y="604" width="1200" height="6.6" fill="url(#b6)"/>
<rect x="0" y="610" width="1200" height="6.6" fill="url(#b7)"/>
<rect x="0" y="616" width="1200" height="6.6" fill="url(#b8)"/>
<rect x="0" y="622" width="1200" height="6.6" fill="url(#b9)"/>
<rect x="0" y="628" width="1200" height="6.6" fill="url(#b10)"/>
<rect x="0" y="634" width="1200" height="6.6" fill="url(#b11)"/>
<rect x="0" y="640" width="1200" height="6.6" fill="url(#b12)"/>
<rect x="0" y="646" width="1200" height="6.6" fill="url(#b13)"/>
<rect x="0" y="652" width="1200" height="6.6" fill="url(#b14)"/>
<rect x="0" y="658" width="1200" height="6.6" fill="url(#b15)"/>
<rect x="0" y="664" width="1200" height="6.6" fill="url(#b16)"/>
<rect x="0" y="670" width="1200" height="6.6" fill="url(#b17)"/>
<rect x="0" y="676" width="1200" height="6.6" fill="url(#b18)"/>
<rect x="0" y="682" width="1200" height="6.6" fill="url(#b19)"/>
<rect x="0" y="688" width="1200" height="6.6" fill="url(#b20)"/>
<rect x="0" y="694" width="1200" height="6.6" fill="url(#b21)"/>
<rect x="0" y="700" width="1200" height="6.6" fill="url(#b22)"/>
<rect x="0" y="706" width="1200" height="6.6" fill="url(#b23)"/>
<rect x="0" y="712" width="1200" height="6.6" fill="url(#b24)"/>
<rect x="0" y="718" width="1200" height="6.6" fill="url(#b25)"/>
<rect x="0" y="724" width="1200" height="6.6" fill="url(#b26)"/>
<rect x="0" y="730" width="1200" height="6.6" fill="url(#b27)"/>
<rect x="0" y="736" width="1200" height="6.6" fill="url(#b28)"/>
<rect x="0" y="742" width="1200" height="6.6" fill="url(#b29)"/>
<rect x="0" y="748" width="1200" height="6.6" fill="url(#b30)"/>
<rect x="0" y="754" width="1200" height="6.6" fill="url(#b31)"/>
<rect x="0" y="760" width="1200" height="6.6" fill="url(#b32)"/>
<rect x="0" y="766" width="1200" height="6.6" fill="url(#b33)"/>
<rect x="0" y="772" width="1200" height="6.6" fill="url(#b34)"/>
<rect x="0" y="778" width="1200" height="6.6" fill="url(#b35)"/>
<rect x="0" y="784" width="1200" height="6.6" fill="url(#b36)"/>
<rect x="0" y="790" width="1200" height="6.6" fill="url(#b37)"/>
<rect x="0" y="796" width="1200" height="6.6" fill="url(#b38)"/>
<rect x="0" y="802" width="1200" height="6.6" fill="url(#b39)"/>
<rect x="0" y="808" width="1200" height="6.6" fill="url(#b40)"/>
<rect x="0" y="814" width="1200" height="6.6" fill="url(#b41)"/>
<rect x="0" y="820" width="1200" height="6.6" fill="url(#b42)"/>
<rect x="0" y="826" width="1200" height="6.6" fill="url(#b43)"/>
<rect x="0" y="832" width="1200" height="6.6" fill="url(#b44)"/>
<rect x="0" y="838" width="1200" height="6.6" fill="url(#b45)"/>
<rect x="0" y="844" width="1200" height="4.6" fill="url(#b46)"/>
<rect x="0" y="205" width="1200" height="363" fill="#c0c8d0"/>
<g id="strip">
<polygon points="157.0,199.7 1056.3,341.7 1051.0,367.4 153.3,219.4 151.3,213.3" fill="#151a20"/>
<polygon points="157.6,203.2 1055.6,345.6 1053.6,356.8 152.6,212.0" fill="#1d242d"/>
<polyline points="152.5,212.8 1053.5,357.8" stroke="#2e3642" stroke-width="1" fill="none"/>
<polyline points="157.0,200.3 1056.0,342.3" stroke="#0d1015" stroke-width="1.2" fill="none"/>
</g>
<g id="capL">
<path d="M145,237 L160,238.7 L160.8,241.3 L224.2,253.3 L216.7,257 L215,259.7 L203.3,262.5 L201.7,265.8 L190.8,269.2 L180,276.3 L178.3,278.7 L166.7,276.7 L127,256.2 C122.5,252 124.5,243.5 133.3,240.3 Z" fill="#222a32"/>
<path d="M145,237 L160,238.7 L160.8,241.3 L224.2,253.3 L216.7,257 L203.3,260.5 L190.8,267 L180,274 L167,272.5 L129,252.5 C125.5,249.5 127.5,243.5 134,240.6 Z" fill="#3b4753"/>
<polygon points="150.0,251.5 157.0,250.0 178.0,254.5 171.0,256.5" fill="#56626e"/>
<polygon points="170.0,265.5 176.0,263.5 190.0,266.5 184.0,268.5" fill="#56626e"/>
<polyline points="140.0,241.5 215.0,256.5" stroke="#2a333c" stroke-width="1.2" fill="none"/>
</g>
<g id="capR">
<path d="M929.5,376.6 L1047.8,394.9 L1048.3,392.5 L1075.8,397.3 C1076.2,408.5 1068,419.6 1052,419.8 L990,418.8 L935,416.4 L910.3,413.8 L909.3,410.5 Z" fill="#1f262d"/>
<path d="M929.5,376.6 L1047.8,394.9 L1048.3,392.5 L1075.8,397.3 C1075.8,405 1067.5,413.4 1052,413.7 L990,412.6 L935,410.8 L910,409 Z" fill="#3e4852"/>
<polygon points="927.0,380.5 1058.0,400.5 1056.0,403.5 925.0,383.5" fill="#4b5660"/>
<polygon points="921.0,390.5 1011.0,404.0 1008.0,407.5 919.0,394.0" fill="#4b5660"/>
<polygon points="915.0,401.0 945.0,405.5 942.0,409.0 913.0,404.5" fill="#4b5660"/>
</g>
<g id="pad">
<polygon points="229.0,313.8 929.5,449.7 909.0,488.0 188.7,339.9" fill="#20272e"/>
<polygon points="229.0,313.8 929.5,449.7 926.9,454.5 224.0,317.1" fill="#353e47"/>
<polygon points="224.0,317.1 926.9,454.5 926.0,456.2 222.1,318.2" fill="#20272e"/>
<polygon points="222.1,318.2 926.0,456.2 923.4,461.2 216.9,321.6" fill="#4a5661"/>
<polygon points="216.9,321.6 923.4,461.2 920.9,465.8 212.1,324.8" fill="#404b55"/>
<polygon points="212.1,324.8 920.9,465.8 919.6,468.3 209.5,326.5" fill="#222930"/>
<polygon points="209.5,326.5 919.6,468.3 917.0,473.1 204.4,329.7" fill="#48545f"/>
<polygon points="204.4,329.7 917.0,473.1 914.4,477.9 199.4,333.0" fill="#3e4953"/>
<polygon points="199.4,333.0 914.4,477.9 913.2,480.1 197.0,334.5" fill="#222930"/>
<polygon points="197.0,334.5 913.2,480.1 911.7,483.0 193.9,336.5" fill="#3f4a54"/>
<polygon points="193.9,336.5 911.7,483.0 910.2,485.7 191.1,338.3" fill="#363f48"/>
<polygon points="191.1,338.3 910.2,485.7 909.0,488.0 188.7,339.9" fill="#1a2026"/>
</g>
<g id="alu">
<polygon points="916.0,552.0 953.3,553.3 960.7,560.0 958.7,560.9 928.7,558.9 916.0,557.3" fill="#555a62"/>
<polygon points="955.0,554.2 981.3,556.0 980.0,560.9 960.7,558.9" fill="#555a62"/>
<polygon points="994.0,555.0 1022.0,553.5 1027.0,556.5 1020.7,559.0 997.3,558.2" fill="#414850"/>
<g clip-path="url(#aluClip)">
<polygon points="140.0,346.3 1060.0,542.7 1060.0,618.1 140.0,404.1" fill="url(#aluL)"/>
<polygon points="140.0,347.9 1060.0,544.7 1060.0,546.5 140.0,349.3" fill="#55637a"/>
<polygon points="140.0,351.5 1060.0,549.3 1060.0,551.7 140.0,353.2" fill="#343e4c"/>
<polygon points="140.0,354.7 1060.0,553.6 1060.0,555.3 140.0,356.0" fill="#414c5d"/>
<polygon points="140.0,349.3 1060.0,546.5 1060.0,549.5 140.0,351.6" fill="url(#aluL2)"/>
<polygon points="140.0,361.8 1060.0,562.9 1060.0,565.0 140.0,363.5" fill="#2c3643"/>
<polygon points="140.0,363.5 1060.0,565.0 1060.0,565.9 140.0,364.1" fill="#8ea3bf"/>
<polygon points="140.0,364.1 1060.0,565.9 1060.0,567.6 140.0,365.4" fill="#384353"/>
<polygon points="140.0,368.7 1060.0,571.9 1060.0,598.6 140.0,389.2" fill="url(#aluL2)"/>
<g opacity="0.18"><polygon points="140.0,372.1 1060.0,576.2 1060.0,598.6 140.0,389.2" fill="#3f4f68"/></g>
<g opacity="0.25"><polygon points="140.0,373.9 1060.0,578.7 1060.0,598.6 140.0,389.2" fill="#3f4f68"/></g>
<polygon points="140.0,374.9 1060.0,579.9 1060.0,598.6 140.0,389.2" fill="#6f829b"/>
<polygon points="140.0,376.2 1060.0,581.6 1060.0,598.6 140.0,389.2" fill="#5a6a80"/>
<polygon points="140.0,377.5 1060.0,583.3 1060.0,598.6 140.0,389.2" fill="url(#aluRound)"/>
<polygon points="140.0,381.4 1060.0,588.4 1060.0,598.6 140.0,389.2" fill="#566478"/>
<polygon points="161.7,369.2 172.8,377.3 174.5,380.8 180.9,384.3 182.1,386.7 190.8,390.2 196.7,394.8 200.0,392.0 176.0,371.5" fill="#4c5968"/>
</g>
<polygon points="196.7,394.8 916.0,557.3 913.5,576.6 200.8,412.9" fill="#4f5257"/>
<ellipse cx="248.1" cy="414.2" rx="3.4" ry="1.9" fill="#dde1e6" transform="rotate(13 248.1 414.2)"/>
<ellipse cx="379.6" cy="444.6" rx="3.4" ry="1.9" fill="#dde1e6" transform="rotate(13 379.6 444.6)"/>
<ellipse cx="515.1" cy="476.0" rx="3.4" ry="1.9" fill="#dde1e6" transform="rotate(13 515.1 476.0)"/>
<ellipse cx="663.4" cy="509.8" rx="3.4" ry="1.9" fill="#dde1e6" transform="rotate(13 663.4 509.8)"/>
<ellipse cx="836.3" cy="548.8" rx="3.4" ry="1.9" fill="#dde1e6" transform="rotate(13 836.3 548.8)"/>
</g>
<g id="tube">
<polygon points="170.5,407.2 167.0,410.0 166.5,415.0 168.0,421.0 166.0,429.0 172.0,433.7 191.5,448.8 196.5,450.3 239.8,460.7 390.0,497.5 480.0,519.5 600.0,548.9 800.0,597.9 840.0,607.6 885.0,619.3 894.0,621.3 903.0,622.2 930.0,623.4 960.0,625.1 1001.3,624.3 1012.8,621.4 1019.5,616.4 1022.8,609.8 1024.4,605.7 1028.5,605.6 1032.9,609.8 1033.9,614.0 1032.7,623.0 1027.0,634.5 1016.5,643.3 1001.3,647.4 960.0,646.2 930.0,645.2 906.0,644.5 896.0,643.8 886.0,641.6 840.0,630.0 800.0,620.2 600.0,569.4 480.0,539.5 390.0,516.4 239.8,478.5 196.0,465.2 187.5,462.3 153.0,438.0 148.5,428.0 150.0,422.0 155.0,416.0 163.0,410.0 170.5,407.2" fill="url(#tubeBot)"/>
<polygon points="239.8,470.1 390.0,507.3 480.0,530.2 600.0,559.6 800.0,609.2 840.0,619.0 886.0,630.6 896.0,632.8 906.0,633.4 930.0,634.1 960.0,635.8 1001.3,636.2 1015.0,632.3 1024.4,626.3 1030.2,618.1 1033.1,611.5 1032.7,609.6 1032.8,609.7 1033.5,612.6 1031.3,620.3 1025.6,630.0 1015.7,637.2 1001.3,641.2 960.0,640.5 930.0,639.1 906.0,638.4 896.0,637.8 886.0,635.6 840.0,624.0 800.0,614.2 600.0,564.0 480.0,534.4 390.0,511.4 239.8,473.9" fill="url(#tubeBot2)"/>
<polygon points="170.5,407.2 167.0,410.0 166.5,415.0 168.0,421.0 166.0,429.0 172.0,433.7 191.5,448.8 196.5,450.3 239.8,460.7 390.0,497.5 480.0,519.5 600.0,548.9 800.0,597.9 840.0,607.6 885.0,619.3 894.0,621.3 903.0,622.2 930.0,623.4 960.0,625.1 1001.3,624.3 1012.8,621.4 1019.5,616.4 1022.8,609.8 1024.4,605.7 1028.5,605.6 1032.7,609.6 1033.1,611.5 1030.2,618.1 1024.4,626.3 1015.0,632.3 1001.3,636.2 960.0,635.8 930.0,634.1 906.0,633.4 896.0,632.8 886.0,630.6 840.0,619.0 800.0,609.2 600.0,559.6 480.0,530.2 390.0,507.3 239.8,470.1 196.0,457.8 190.0,455.8 158.0,434.6 150.0,428.0 150.5,422.0 155.4,416.1 163.3,410.0 170.5,407.2" fill="url(#tubeTop)"/>
<polygon points="190.2,454.8 196.1,456.8 239.8,468.8 390.0,505.9 480.0,528.7 600.0,558.1 800.0,607.6 840.0,617.4 885.9,629.0 895.7,631.2 905.6,631.8 930.0,632.6 960.0,634.3 1001.3,634.5 1014.7,630.8 1023.7,624.9 1029.2,616.9 1031.9,610.7 1032.1,609.0 1032.7,609.6 1033.1,611.5 1030.2,618.1 1024.4,626.3 1015.0,632.3 1001.3,636.2 960.0,635.8 930.0,634.1 906.0,633.4 896.0,632.8 886.0,630.6 840.0,619.0 800.0,609.2 600.0,559.6 480.0,530.2 390.0,507.3 239.8,470.1 196.0,457.8 190.0,455.8" fill="url(#tubeHi)"/>
<polygon points="196.5,450.3 239.8,460.7 390.0,497.5 480.0,519.5 600.0,548.9 800.0,597.9 840.0,607.6 885.0,619.3 894.0,621.3 903.0,622.2 930.0,623.4 960.0,625.1 1001.3,624.3 1001.3,626.2 960.0,626.8 930.0,625.1 903.5,624.0 894.3,623.1 885.2,621.1 840.0,609.4 800.0,599.7 600.0,550.6 480.0,521.2 390.0,499.1 239.8,462.2 196.4,451.5" fill="url(#tubeEdge)"/>
<polyline points="153.0,437.5 187.5,461.8 196.0,464.7 239.8,478.0 390.0,515.9 480.0,539.0 600.0,568.9 800.0,619.7 840.0,629.5 886.0,641.1 896.0,643.3 906.0,644.0 930.0,644.7 960.0,645.7 1001.3,646.9 1016.5,642.8" stroke="#8d8983" stroke-width="0.9" fill="none" opacity="0.6"/>
<polygon points="156.5,418.5 165.0,410.0 166.5,415.0 168.0,421.0 158.0,424.0" fill="#8d98a5"/>
<polygon points="158.0,424.0 168.0,421.0 174.0,424.5 166.0,429.0" fill="#dfe6ee"/>
</g>
<line class="dl" x1="135.6" y1="134.5" x2="135.6" y2="228.5"/>
<line class="dl" x1="405" y1="294" x2="405" y2="338"/>
<line class="dl" x1="958.1" y1="223.4" x2="958.1" y2="322"/>
<line class="dl" x1="958.2" y1="445.2" x2="958.2" y2="514.5"/>
<line class="dl" x1="405" y1="527.5" x2="405" y2="658"/>
<line class="bl" x1="209.9" y1="262.7" x2="209.9" y2="317.2"/>
<line class="bl" x1="915.7" y1="418.4" x2="915.7" y2="444.6"/>
<line x1="915.7" y1="446.5" x2="915.7" y2="466" stroke="#2f86bd" stroke-width="2.4" opacity="0.75"/>
<g opacity="0.995">
<text class="lb" x="139.4" y="145.1" textLength="216.6" lengthAdjust="spacingAndGlyphs">Полипропиленовые</text>
<text class="lb" x="139.4" y="163.9" textLength="104.0" lengthAdjust="spacingAndGlyphs">накладки</text>
<text class="lb" x="408.4" y="305.1" textLength="117.4" lengthAdjust="spacingAndGlyphs">Резиновая</text>
<text class="lb" x="408.4" y="324.4" textLength="112.6" lengthAdjust="spacingAndGlyphs">площадка</text>
<text class="lb" x="772.5" y="231.6" textLength="179.2" lengthAdjust="spacingAndGlyphs">Резиновый кант</text>
<text class="lb" x="962.9" y="457.7" textLength="162.3" lengthAdjust="spacingAndGlyphs">Алюминиевый</text>
<text class="lb" x="962.9" y="476.7" textLength="99.9" lengthAdjust="spacingAndGlyphs">профиль</text>
<text class="lb" x="329.9" y="637.9" textLength="62.1" lengthAdjust="spacingAndGlyphs">КАНТ</text>
<text x="161.4" y="657.1" textLength="230.6" lengthAdjust="spacingAndGlyphs" style="font-size:15px;fill:#6c6c6d;stroke:#6c6c6d;stroke-width:0.5">Нержавеющая сталь</text>
</g>
</svg></body></html>
